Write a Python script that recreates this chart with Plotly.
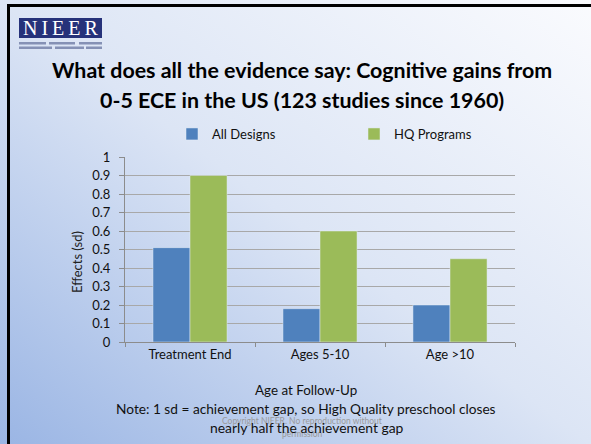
import base64
import plotly.graph_objects as go

categories = ["Treatment End", "Ages 5-10", "Age >10"]
all_designs = [0.51, 0.18, 0.20]
hq_programs = [0.90, 0.60, 0.45]
y_ticks = [0, 0.1, 0.2, 0.3, 0.4, 0.5, 0.6, 0.7, 0.8, 0.9, 1]
y_tick_labels = ["0", "0.1", "0.2", "0.3", "0.4", "0.5", "0.6", "0.7", "0.8", "0.9", "1"]

W, H = 591, 444
L, R, T, B = 125, 76, 157, 102
PW, PH = W - L - R, H - T - B
FONT = "Lato, 'Open Sans', sans-serif"


def px(x):
    return (x - L) / PW


def py(y):
    return (H - B - y) / PH


svg = f'''<svg xmlns="http://www.w3.org/2000/svg" width="{W}" height="{H}" viewBox="0 0 {W} {H}" preserveAspectRatio="none">
<defs><linearGradient id="g" x1="1" y1="0" x2="0" y2="1">
<stop offset="0" stop-color="#fafbfe"/>
<stop offset="0.5" stop-color="#dce5f5"/>
<stop offset="1" stop-color="#9ab5e4"/>
</linearGradient></defs>
<rect x="0" y="0" width="{W}" height="{H}" fill="url(#g)"/>
</svg>'''
src = "data:image/svg+xml;base64," + base64.b64encode(svg.encode()).decode()

fig = go.Figure()
fig.add_trace(go.Bar(name="All Designs", x=categories, y=all_designs, marker_color="#4f81bd"))
fig.add_trace(go.Bar(name="HQ Programs", x=categories, y=hq_programs, marker_color="#9bbb59"))

shapes = [
    dict(type="line", xref="paper", yref="paper", x0=px(7), x1=px(W + 2), y0=py(5.5), y1=py(5.5),
         line=dict(color="#000000", width=3)),
    dict(type="line", xref="paper", yref="paper", x0=px(8.5), x1=px(8.5), y0=py(4), y1=py(H + 2),
         line=dict(color="#000000", width=3)),
    dict(type="rect", xref="paper", yref="paper", x0=px(19), x1=px(102), y0=py(38), y1=py(18),
         fillcolor="#26327a", line=dict(width=0)),
]
# small tagline stripes under the logo
for (x0, x1, y0) in [(19, 46, 42), (49, 75, 42), (79, 102, 42), (19, 52, 46.5), (55, 84, 46.5), (86, 102, 46.5)]:
    shapes.append(dict(type="rect", xref="paper", yref="paper", x0=px(x0), x1=px(x1),
                       y0=py(y0 + 2.5), y1=py(y0), fillcolor="#8591b5", line=dict(width=0)))

annotations = [
    dict(text="N\u2009I\u2009E\u2009E\u2009R", x=px(60.5), y=py(28), xref="paper", yref="paper", showarrow=False,
         font=dict(family="'Liberation Serif', 'DejaVu Serif', serif", size=20, color="#ffffff"),
         xanchor="center", yanchor="middle"),
    dict(text="<b>What does all the evidence say: Cognitive gains from</b>", x=px(302), y=py(70),
         xref="paper", yref="paper", showarrow=False, font=dict(family=FONT, size=21.4, color="#000000"),
         xanchor="center", yanchor="middle"),
    dict(text="<b>0-5 ECE in the US (123 studies since 1960)</b>", x=px(302), y=py(100),
         xref="paper", yref="paper", showarrow=False, font=dict(family=FONT, size=21.4, color="#000000"),
         xanchor="center", yanchor="middle"),
    dict(text="Effects (sd)", x=px(77), y=py(262), xref="paper", yref="paper", showarrow=False,
         textangle=-90, font=dict(family=FONT, size=13, color="#222222"),
         xanchor="center", yanchor="middle"),
    dict(text="Age at Follow-Up", x=px(306), y=py(390), xref="paper", yref="paper", showarrow=False,
         font=dict(family=FONT, size=13.4, color="#111111"), xanchor="center", yanchor="middle"),
    dict(text="Copyright NIEER. No reproduction without", x=px(302), y=py(421), xref="paper", yref="paper",
         showarrow=False, font=dict(family=FONT, size=8.5, color="#9a9a9a"), xanchor="center", yanchor="middle"),
    dict(text="permission", x=px(302), y=py(434), xref="paper", yref="paper",
         showarrow=False, font=dict(family=FONT, size=8.5, color="#9a9a9a"), xanchor="center", yanchor="middle"),
    dict(text="Note: 1 sd = achievement gap, so High Quality preschool closes", x=px(306), y=py(408),
         xref="paper", yref="paper", showarrow=False, font=dict(family=FONT, size=13.7, color="#111111"),
         xanchor="center", yanchor="middle"),
    dict(text="nearly half the achievement gap", x=px(307), y=py(427),
         xref="paper", yref="paper", showarrow=False, font=dict(family=FONT, size=13.9, color="#111111"),
         xanchor="center", yanchor="middle"),
]

fig.update_layout(
    width=W, height=H,
    margin=dict(l=L, r=R, t=T, b=B, autoexpand=False),
    paper_bgcolor="#dce5f5",
    plot_bgcolor="rgba(0,0,0,0)",
    barmode="group",
    bargap=0.43,
    bargroupgap=0,
    font=dict(family=FONT, size=13, color="#111111"),
    images=[dict(source=src, xref="paper", yref="paper", x=px(0), y=py(0), sizex=W / PW, sizey=H / PH,
                 sizing="stretch", xanchor="left", yanchor="top", layer="below")],
    shapes=shapes,
    annotations=annotations,
    legend=dict(orientation="h", x=px(172), y=py(134), xanchor="left", yanchor="middle",
                entrywidth=137, entrywidthmode="pixels", bgcolor="rgba(0,0,0,0)",
                font=dict(family=FONT, size=13, color="#111111"), itemwidth=30),
    showlegend=True,
)
fig.update_xaxes(showline=True, linecolor="#8c8c8c", linewidth=1, ticks="outside", ticklen=4,
                 tickcolor="#8c8c8c", tickson="boundaries", showgrid=False,
                 tickfont=dict(family=FONT, size=13, color="#111111"))
fig.update_yaxes(range=[0, 1], tickvals=y_ticks, ticktext=y_tick_labels, showline=True, linecolor="#8c8c8c",
                 linewidth=1, ticks="outside", ticklen=5, tickcolor="#8c8c8c", showgrid=True,
                 gridcolor="#a8a8a8", gridwidth=1, zeroline=False, ticklabelstandoff=6,
                 tickfont=dict(family=FONT, size=13, color="#111111"))

fig.write_html("out.html")
